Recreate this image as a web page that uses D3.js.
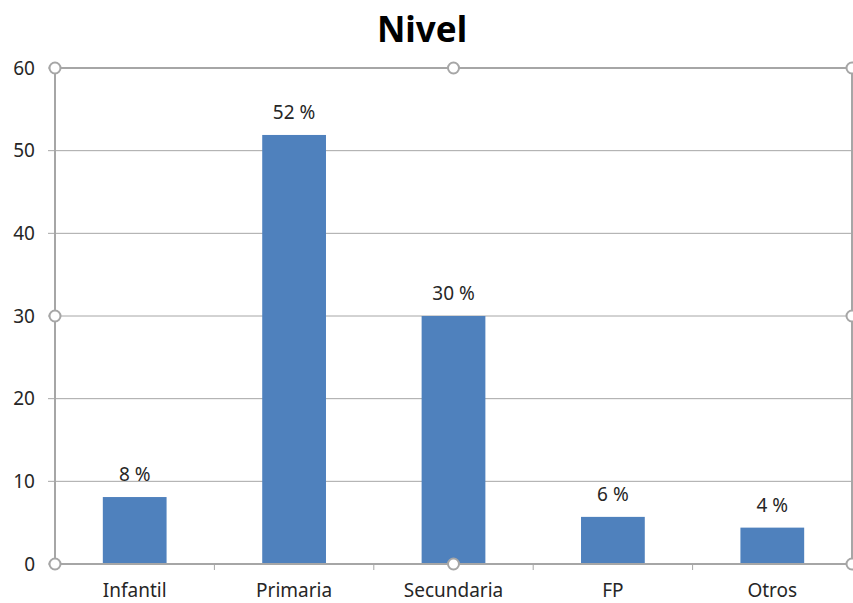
<!DOCTYPE html>
<html>
<head>
<meta charset="utf-8">
<script src="https://cdn.jsdelivr.net/npm/d3@7"></script>
<style>
  body { margin: 0; background: #fff; }
  svg { display: block; font-family: "Noto Sans", "Open Sans", sans-serif; }
</style>
</head>
<body>
<div id="chart"></div>
<script>
// chart data
const categories = ["Infantil", "Primaria", "Secundaria", "FP", "Otros"];
const values = [8.1, 51.9, 30.0, 5.7, 4.4];
const yTicks = [0, 10, 20, 30, 40, 50, 60];
const title = "Nivel";

const width = 853, height = 603;
const margin = { top: 68, right: 1, bottom: 39, left: 55 };
const innerW = width - margin.left - margin.right,
    innerH = height - margin.top - margin.bottom;

const svg = d3.select("#chart")
    .append("svg")
    .attr("width", width)
    .attr("height", height);

const g = svg.append("g")
    .attr("transform", "translate(" + margin.left + "," + margin.top + ")");

const x = d3.scaleBand()
    .domain(categories)
    .range([0, innerW])
    .paddingInner(0.6)
    .paddingOuter(0.3);

const y = d3.scaleLinear()
    .domain([0, 60])
    .range([innerH, 0]);

// gridlines + y labels
g.selectAll("line.grid")
    .data(yTicks)
    .enter()
    .append("line")
    .attr("class", "grid")
    .attr("x1", -7)
    .attr("x2", innerW)
    .attr("y1", d => y(d))
    .attr("y2", d => y(d))
    .style("stroke", "#a6a6a6")
    .style("stroke-width", 1);

g.selectAll("text.ylab")
    .data(yTicks)
    .enter()
    .append("text")
    .attr("class", "ylab")
    .attr("x", -20)
    .attr("y", d => y(d))
    .attr("dy", "0.35em")
    .attr("text-anchor", "end")
    .style("font-size", "19px")
    .style("fill", "#262626")
    .text(d => d);

// category tick marks on x axis
const step = x.step();
g.selectAll("line.xtick")
    .data(d3.range(categories.length + 1))
    .enter()
    .append("line")
    .attr("class", "xtick")
    .attr("x1", i => i * step)
    .attr("x2", i => i * step)
    .attr("y1", innerH)
    .attr("y2", innerH + 6)
    .style("stroke", "#a6a6a6");

// bars
g.selectAll("rect.bar")
    .data(values)
    .enter()
    .append("rect")
    .attr("class", "bar")
    .attr("x", (d, i) => x(categories[i]))
    .attr("y", d => y(d))
    .attr("width", x.bandwidth())
    .attr("height", d => innerH - y(d))
    .style("fill", "#4f81bd");

// data labels
g.selectAll("text.vlab")
    .data(values)
    .enter()
    .append("text")
    .attr("class", "vlab")
    .attr("x", (d, i) => x(categories[i]) + x.bandwidth() / 2)
    .attr("y", d => y(d) - 16)
    .attr("text-anchor", "middle")
    .style("font-size", "19px")
    .style("fill", "#262626")
    .text(d => Math.round(d) + " %");

// category labels
g.selectAll("text.xlab")
    .data(categories)
    .enter()
    .append("text")
    .attr("class", "xlab")
    .attr("x", d => x(d) + x.bandwidth() / 2)
    .attr("y", innerH + 33)
    .attr("text-anchor", "middle")
    .style("font-size", "19px")
    .style("fill", "#262626")
    .text(d => d);

// selection frame with handles (plot area selected)
g.append("rect")
    .attr("width", innerW)
    .attr("height", innerH)
    .style("fill", "none")
    .style("stroke", "#a6a6a6")
    .style("stroke-width", 2);

const handles = [];
[0, 0.5, 1].forEach(fx => [0, 0.5, 1].forEach(fy => {
    if (!(fx === 0.5 && fy === 0.5)) handles.push([fx * innerW, fy * innerH]);
}));
g.selectAll("circle.handle")
    .data(handles)
    .enter()
    .append("circle")
    .attr("class", "handle")
    .attr("cx", d => d[0])
    .attr("cy", d => d[1])
    .attr("r", 5.5)
    .style("fill", "#fff")
    .style("stroke", "#a6a6a6")
    .style("stroke-width", 2);

// title
svg.append("text")
    .attr("x", 422)
    .attr("y", 42)
    .attr("text-anchor", "middle")
    .style("font-size", "35px")
    .style("font-weight", "bold")
    .style("fill", "#000")
    .text(title);
</script>
</body>
</html>
